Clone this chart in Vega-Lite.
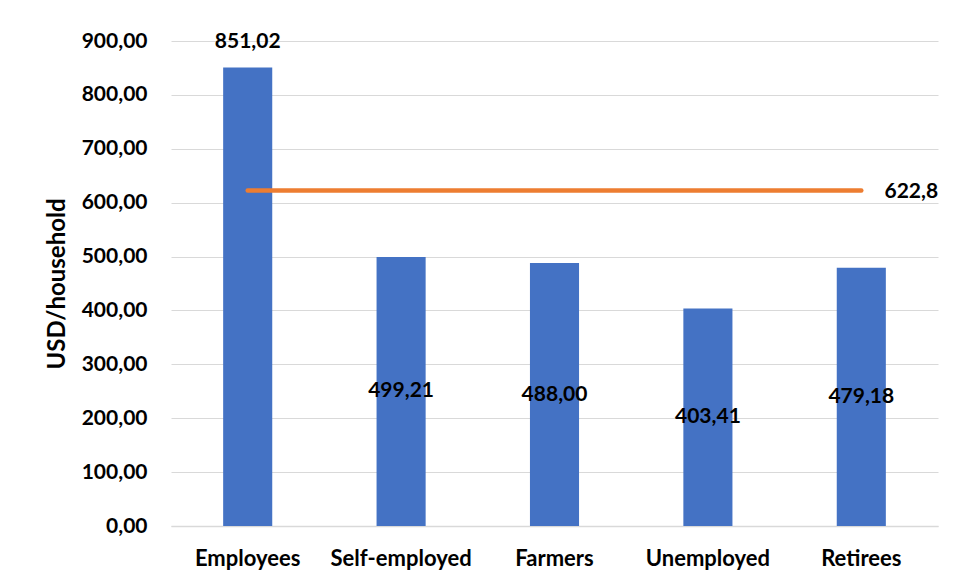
{
  "$schema": "https://vega.github.io/schema/vega-lite/v6.json",
  "autosize": {"type": "none"},
  "padding": {"left": 171, "top": 41, "right": 18, "bottom": 55},
  "width": 767,
  "height": 485,
  "data": {
    "values": [
      {"group": "Employees", "value": 851.02, "avg": 622.8},
      {"group": "Self-employed", "value": 499.21, "avg": 622.8},
      {"group": "Farmers", "value": 488.0, "avg": 622.8},
      {"group": "Unemployed", "value": 403.41, "avg": 622.8},
      {"group": "Retirees", "value": 479.18, "avg": 622.8}
    ]
  },
  "transform": [
    {"calculate": "replace(format(datum.value, '.2f'), '.', ',')", "as": "label"},
    {"calculate": "replace(format(datum.avg, '.1f'), '.', ',')", "as": "avgLabel"},
    {"calculate": "datum.value / 2", "as": "mid"}
  ],
  "layer": [
    {
      "mark": {"type": "bar", "color": "#4472C4"},
      "encoding": {
        "x": {
          "field": "group", "type": "nominal", "sort": null,
          "scale": {"paddingInner": 0.68, "paddingOuter": 0.34},
          "axis": {
            "title": null, "labelAngle": 0, "domain": true, "domainColor": "#D9D9D9", "domainWidth": 1.5,
            "ticks": false, "labelPadding": 22, "labelFont": "Lato", "labelFontSize": 22,
            "labelFontWeight": "bold", "labelColor": "#000000"
          }
        },
        "y": {
          "field": "value", "type": "quantitative",
          "scale": {"domain": [0, 900], "nice": false},
          "axis": {
            "values": [0, 100, 200, 300, 400, 500, 600, 700, 800, 900],
            "labelExpr": "replace(format(datum.value, '.2f'), '.', ',')",
            "domain": false, "ticks": false, "grid": true, "gridColor": "#D9D9D9", "gridWidth": 1.2,
            "labelPadding": 24, "labelFont": "Lato", "labelFontSize": 21, "labelFontWeight": "bold",
            "labelColor": "#000000",
            "title": "USD/household", "titleFont": "Lato", "titleFontSize": 24, "titleFontWeight": "bold",
            "titleColor": "#000000", "titleAngle": -90, "titleX": -114, "titleY": 242.5,
            "titleAlign": "center", "titleBaseline": "middle"
          }
        }
      }
    },
    {
      "mark": {"type": "line", "color": "#ED7D31", "strokeWidth": 4.5, "strokeCap": "round"},
      "encoding": {
        "x": {"field": "group", "type": "nominal", "sort": null},
        "y": {"field": "avg", "type": "quantitative"}
      }
    },
    {
      "transform": [{"filter": "datum.group !== 'Employees'"}],
      "mark": {"type": "text", "font": "Lato", "fontSize": 21, "fontWeight": "bold", "color": "#000000", "baseline": "middle"},
      "encoding": {
        "x": {"field": "group", "type": "nominal", "sort": null},
        "y": {"field": "mid", "type": "quantitative"},
        "text": {"field": "label"}
      }
    },
    {
      "transform": [{"filter": "datum.group === 'Employees'"}],
      "mark": {"type": "text", "font": "Lato", "fontSize": 21, "fontWeight": "bold", "color": "#000000", "baseline": "middle", "dy": -25},
      "encoding": {
        "x": {"field": "group", "type": "nominal", "sort": null},
        "y": {"field": "value", "type": "quantitative"},
        "text": {"field": "label"}
      }
    },
    {
      "transform": [{"filter": "datum.group === 'Retirees'"}],
      "mark": {"type": "text", "font": "Lato", "fontSize": 21, "fontWeight": "bold", "color": "#000000", "baseline": "middle", "dx": 50, "dy": 2},
      "encoding": {
        "x": {"field": "group", "type": "nominal", "sort": null},
        "y": {"field": "avg", "type": "quantitative"},
        "text": {"field": "avgLabel"}
      }
    }
  ],
  "config": {"view": {"stroke": null}, "font": "Lato"}
}
